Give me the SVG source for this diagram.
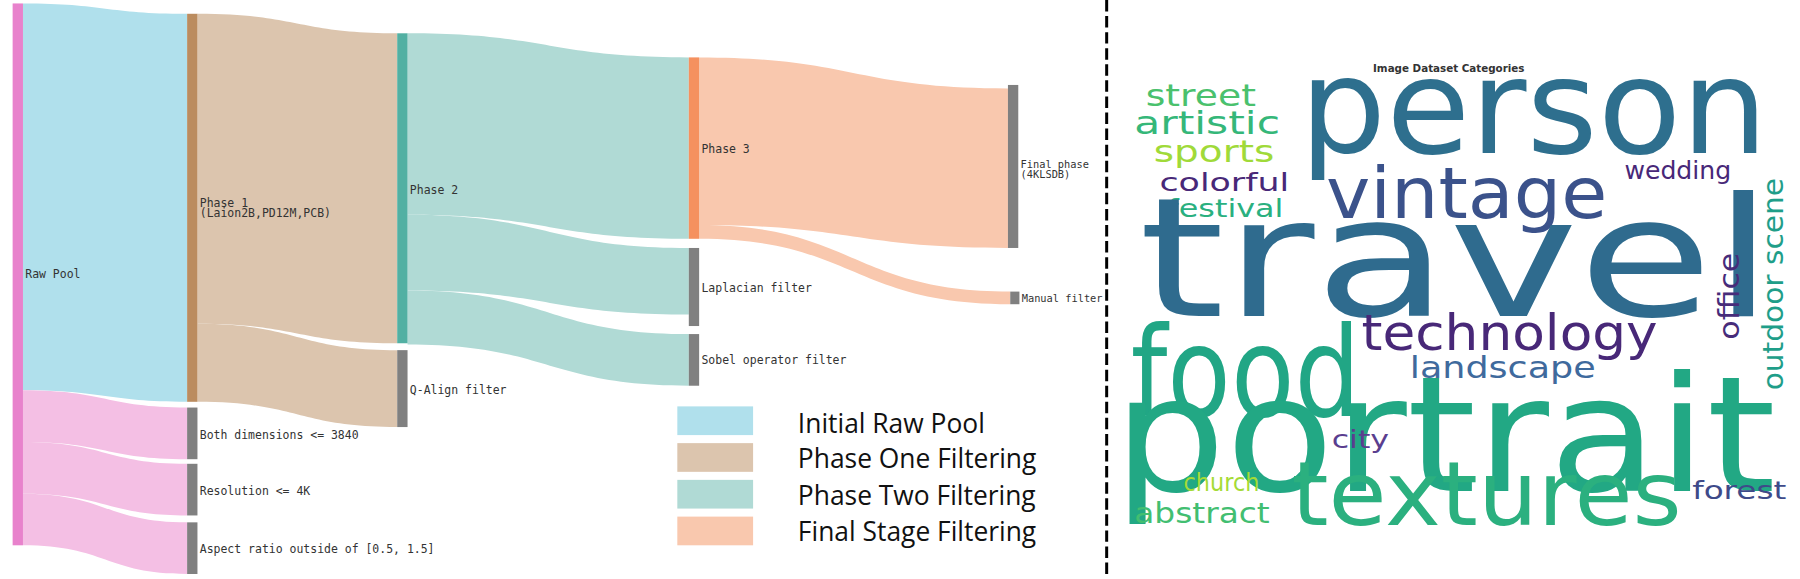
<svg xmlns="http://www.w3.org/2000/svg" width="1800" height="579" viewBox="0 0 1800 579">
<style>
.lb{font-family:"DejaVu Sans Mono",monospace;font-size:10px;fill:#333}
.lg{font-family:"Open Sans","Liberation Sans",sans-serif;font-size:23px;fill:#111}
.w{font-family:"DejaVu Sans",sans-serif}
.blue{fill:#b0e0ec}.pink{fill:#f4bfe4}.tan{fill:#dcc5ae}.teal{fill:#b0dad5}.pea{fill:#f9c8ae}
.grey{fill:#808080}
</style>
<rect width="1800" height="579" fill="#fff"/>
<g transform="scale(1.148)">
<g id="connectors">
<path class="blue" d="M20,3 C92,3 92,12 163,12 L163,350 C92,350 92,340 20,340 Z"/>
<path class="pink" d="M20,340 C92,340 92,355 163,355 L163,400 C92,400 92,385 20,385 Z"/>
<path class="pink" d="M20,385 C92,385 92,404 163,404 L163,449 C92,449 92,430 20,430 Z"/>
<path class="pink" d="M20,430 C92,430 92,455 163,455 L163,500 C92,500 92,475 20,475 Z"/>
<path class="tan" d="M172,12 C259,12 259,29 346,29 L346,299 C259,299 259,282 172,282 Z"/>
<path class="tan" d="M172,282 C259,282 259,305 346,305 L346,372 C259,372 259,350 172,350 Z"/>
<path class="teal" d="M355,29 C477,29 477,50 600,50 L600,208 C477,208 477,187 355,187 Z"/>
<path class="teal" d="M355,187 C477,187 477,216 600,216 L600,274 C477,274 477,253 355,253 Z"/>
<path class="teal" d="M355,253 C477,253 477,291 600,291 L600,336 C477,336 477,300 355,300 Z"/>
<path class="pea" d="M609,50 C743,50 743,77 878,77 L878,216 C743,216 743,196 609,196 Z"/>
<path class="pea" d="M609,196 C743,196 743,254 880,254 L880,265 C743,265 743,208 609,208 Z"/>
</g>
<g id="raw"><rect x="11" y="3" width="9" height="472" fill="#e882cc"/><text class="lb" x="22" y="242">Raw Pool</text></g>
<g id="phase1"><rect x="163" y="12" width="9" height="338" fill="#bb8c5f"/><text class="lb" x="174" y="180">Phase 1</text><text class="lb" x="174" y="189">(Laion2B,PD12M,PCB)</text></g>
<g id="both"><rect class="grey" x="163" y="355" width="9" height="45"/><text class="lb" x="174" y="382">Both dimensions &lt;= 3840</text></g>
<g id="res"><rect class="grey" x="163" y="404" width="9" height="45"/><text class="lb" x="174" y="431">Resolution &lt;= 4K</text></g>
<g id="aspect"><rect class="grey" x="163" y="455" width="9" height="45"/><text class="lb" x="174" y="482">Aspect ratio outside of [0.5, 1.5]</text></g>
<g id="phase2"><rect x="346" y="29" width="9" height="270" fill="#52b0a3"/><text class="lb" x="357" y="169">Phase 2</text></g>
<g id="qalign"><rect class="grey" x="346" y="305" width="9" height="67"/><text class="lb" x="357" y="343">Q-Align filter</text></g>
<g id="phase3"><rect x="600" y="50" width="9" height="158" fill="#f5915f"/><text class="lb" x="611" y="133">Phase 3</text></g>
<g id="lap"><rect class="grey" x="600" y="216" width="9" height="68"/><text class="lb" x="611" y="254">Laplacian filter</text></g>
<g id="sobel"><rect class="grey" x="600" y="291" width="9" height="45"/><text class="lb" x="611" y="317">Sobel operator filter</text></g>
<g id="final"><rect class="grey" x="878" y="74" width="9" height="142"/><text class="lb" x="889" y="146" style="font-size:9px">Final phase</text><text class="lb" x="889" y="155" style="font-size:9px">(4KLSDB)</text></g>
<g id="manual"><rect class="grey" x="880" y="254" width="8" height="11"/><text class="lb" x="890" y="263" style="font-size:9px">Manual filter</text></g>
<g id="legend">
<rect class="blue" x="590" y="354" width="66" height="25"/><text class="lg" x="695" y="377">Initial Raw Pool</text>
<rect class="tan" x="590" y="386" width="66" height="25"/><text class="lg" x="695" y="408">Phase One Filtering</text>
<rect class="teal" x="590" y="418" width="66" height="25"/><text class="lg" x="695" y="440">Phase Two Filtering</text>
<rect class="pea" x="590" y="450" width="66" height="25"/><text class="lg" x="695" y="471">Final Stage Filtering</text>
</g>
<line x1="964" y1="0" x2="964" y2="504" stroke="#000" stroke-width="2.6" stroke-dasharray="10,4"/>
<g id="wordcloud" class="w">
<text x="1262" y="63" font-size="9" font-weight="bold" fill="#333" text-anchor="middle">Image Dataset Categories</text>
<text x="1132" y="133" font-size="115" fill="#2e6f8e" textLength="408" lengthAdjust="spacingAndGlyphs">person</text>
<text x="1155" y="190" font-size="62" fill="#3b528b" textLength="245" lengthAdjust="spacingAndGlyphs">vintage</text>
<text x="998" y="92" font-size="27" fill="#4ac16d" textLength="96" lengthAdjust="spacingAndGlyphs">street</text>
<text x="988" y="117" font-size="28" fill="#35b779" textLength="127" lengthAdjust="spacingAndGlyphs">artistic</text>
<text x="1005" y="141" font-size="27" fill="#a0da39" textLength="105" lengthAdjust="spacingAndGlyphs">sports</text>
<text x="1010" y="166" font-size="22" fill="#482878" textLength="113" lengthAdjust="spacingAndGlyphs">colorful</text>
<text x="1017" y="189" font-size="22" fill="#2ab07f" textLength="101" lengthAdjust="spacingAndGlyphs">festival</text>
<text x="1415" y="156" font-size="22" fill="#482878" textLength="93" lengthAdjust="spacingAndGlyphs">wedding</text>
<text x="992" y="275" font-size="145" fill="#2f6b8e" textLength="553" lengthAdjust="spacingAndGlyphs">travel</text>
<text transform="translate(1553,340) rotate(-90)" font-size="25" fill="#1f9e89" textLength="185" lengthAdjust="spacingAndGlyphs">outdoor scene</text>
<text transform="translate(1515,296) rotate(-90)" font-size="25" fill="#472c7a" textLength="76" lengthAdjust="spacingAndGlyphs">office</text>
<text x="985" y="362" font-size="108" fill="#21a685" textLength="200" lengthAdjust="spacingAndGlyphs">food</text>
<text x="1186" y="305" font-size="44" fill="#482878" textLength="258" lengthAdjust="spacingAndGlyphs">technology</text>
<text x="1228" y="329" font-size="26" fill="#3f6a9d" textLength="162" lengthAdjust="spacingAndGlyphs">landscape</text>
<text x="970" y="428" font-size="140" fill="#22a884" textLength="577" lengthAdjust="spacingAndGlyphs">portrait</text>
<text x="1160" y="390" font-size="22" fill="#5a3e8f" textLength="50" lengthAdjust="spacingAndGlyphs">city</text>
<text x="1031" y="428" font-size="22" fill="#a5db36" textLength="66" lengthAdjust="spacingAndGlyphs">church</text>
<text x="988" y="456" font-size="25" fill="#42be71" textLength="118" lengthAdjust="spacingAndGlyphs">abstract</text>
<text x="1125" y="457" font-size="78" fill="#2bb07f" textLength="340" lengthAdjust="spacingAndGlyphs">textures</text>
<text x="1474" y="435" font-size="22" fill="#3e4a89" textLength="82" lengthAdjust="spacingAndGlyphs">forest</text>
</g>
</g>
</svg>
